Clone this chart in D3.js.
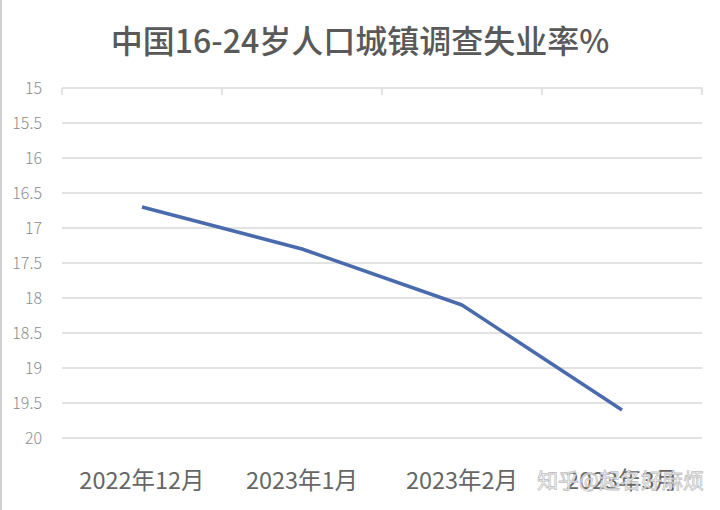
<!DOCTYPE html>
<html><head><meta charset="utf-8">
<script src="https://cdn.jsdelivr.net/npm/d3@7"></script>
<style>
html,body{margin:0;padding:0;background:#fff;}
svg{display:block;}
</style></head>
<body>
<svg id="c" width="720" height="510"></svg>
<script>
const categories = ["2022年12月", "2023年1月", "2023年2月", "2023年3月"];
const values = [16.7, 17.3, 18.1, 19.6];
const yTicks = [15, 15.5, 16, 16.5, 17, 17.5, 18, 18.5, 19, 19.5, 20];
const title = "中国16-24岁人口城镇调查失业率%";
const watermark = "知乎@起名好麻烦";

const svg = d3.select("#c");
const font = "'Noto Sans CJK SC','Noto Sans',sans-serif";
const m = {left: 62, right: 702, top: 88, bottom: 438};

svg.append("line").attr("x1",1).attr("x2",1).attr("y1",0).attr("y2",510)
  .attr("stroke","#d0d0d0").attr("stroke-width",2);

svg.append("text").attr("x",360).attr("y",53).attr("text-anchor","middle")
  .attr("font-family",font).attr("font-size",32).attr("font-weight",500)
  .attr("fill","#595959").text(title);

const x = d3.scaleBand().domain(categories).range([m.left, m.right]);
const y = d3.scaleLinear().domain([15, 20]).range([m.top, m.bottom]);

// gridlines
svg.append("g").selectAll("line").data(yTicks).join("line")
  .attr("x1", m.left).attr("x2", m.right)
  .attr("y1", d => y(d)).attr("y2", d => y(d))
  .attr("stroke", "#d9d9d9").attr("stroke-width", 1.5);

// category tick marks at top axis
const bounds = categories.map(c => x(c)).concat([m.right]);
svg.append("g").selectAll("line").data(bounds).join("line")
  .attr("x1", d => d).attr("x2", d => d)
  .attr("y1", m.top).attr("y2", m.top + 7)
  .attr("stroke", "#d9d9d9").attr("stroke-width", 1.5);

// y labels
svg.append("g").selectAll("text").data(yTicks).join("text")
  .attr("x", 42).attr("y", d => y(d)).attr("dy", "0.35em")
  .attr("text-anchor", "end").attr("font-family", font).attr("font-size", 16)
  .attr("font-weight", 300).attr("fill", "#8c8c8c").text(d => d);

// x labels
svg.append("g").selectAll("text").data(categories).join("text")
  .attr("x", d => x(d) + x.bandwidth()/2).attr("y", 481).attr("dy","0.35em")
  .attr("text-anchor", "middle").attr("font-family", font).attr("font-size", 23.5)
  .attr("fill", "#666").text(d => d);

// line
const line = d3.line().x((d,i) => x(categories[i]) + x.bandwidth()/2).y(d => y(d));
svg.append("path").datum(values).attr("d", line)
  .attr("fill","none").attr("stroke","#4a6aae").attr("stroke-width",3.5)
  .attr("stroke-linejoin","round");

// watermark
svg.append("text").attr("x", 704).attr("y", 481).attr("dy","0.35em")
  .attr("text-anchor","end").attr("font-family",font).attr("font-size",21)
  .attr("fill","#ffffff").attr("stroke","#bbbbbb").attr("stroke-width",0.8)
  .attr("opacity",0.9).text(watermark);
</script>
</body></html>
